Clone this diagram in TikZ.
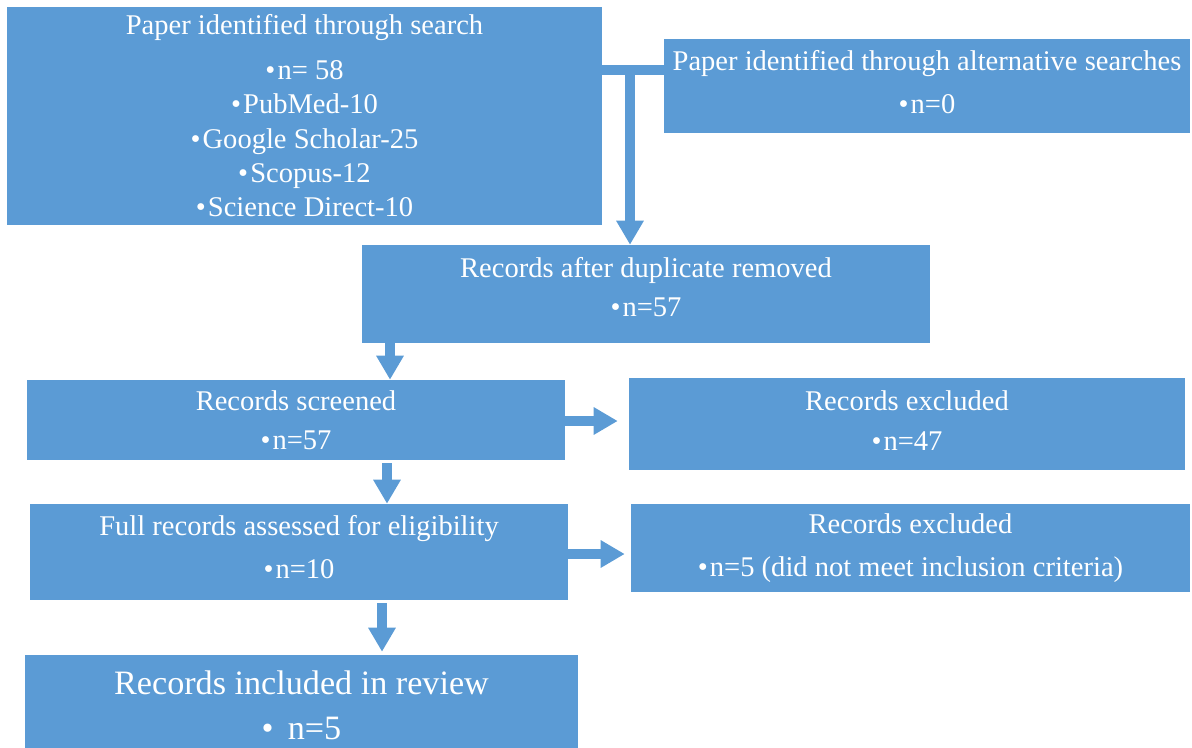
\documentclass[tikz,border=0pt]{standalone}
\usepackage{fontspec}
\setmainfont{Liberation Serif}
\usetikzlibrary{arrows.meta,positioning}
\definecolor{boxblue}{HTML}{5B9BD5}
\newcommand{\bul}{•\kern1.5pt}

\begin{document}
\begin{tikzpicture}[
	box/.style={fill=boxblue, text=white, align=center, inner sep=0pt,
		font=\fontsize{20.3}{24.5}\selectfont},
	lift/.style={execute at end node={\rule[-#1]{0pt}{0pt}}},
	link/.style={draw=boxblue, line width=0.25cm},
	blk/.style={link, -{Triangle[width=0.65cm,length=0.6cm]}}
]
	\useasboundingbox (0,0) rectangle (29.8,-18.675);

	% Caixas
	\node[box, minimum width=14.875cm, minimum height=5.45cm] (search) at (7.6125,-2.9)
		{Paper identified through search\\[7pt]\bul n= 58\\\bul PubMed-10\\\bul Google Scholar-25\\\bul Scopus-12\\\bul Science Direct-10};
	\node[box, lift=6pt, minimum width=13.15cm, minimum height=2.35cm] (alt) at (23.175,-2.15)
		{Paper identified through alternative searches\\[6pt]\bul n=0};
	\node[box, lift=10pt, minimum width=14.2cm, minimum height=2.45cm] (dup) at (16.15,-7.35)
		{Records after duplicate removed\\[3pt]\bul n=57};
	\node[box, minimum width=13.45cm, minimum height=2cm] (scr) at (7.4,-10.5)
		{Records screened\\[3pt]\bul n=57};
	\node[box, lift=4.5pt, minimum width=13.9cm, minimum height=2.3cm] (exa) at (22.675,-10.6)
		{Records excluded\\[4pt]\bul n=47};
	\node[box, lift=7pt, minimum width=13.45cm, minimum height=2.4cm] (full) at (7.475,-13.8)
		{Full records assessed for eligibility\\[6pt]\bul n=10};
	\node[box, minimum width=13.975cm, minimum height=2.2cm] (exb) at (22.7625,-13.7)
		{Records excluded\\[6pt]\bul n=5 (did not meet inclusion criteria)};
	\node[box, minimum width=13.825cm, minimum height=2.5cm,
		font=\fontsize{24.3}{28}\selectfont] (inc) at (7.5375,-17.625)
		{Records included in review\\[4pt]•\, n=5};

	% Setas
	\coordinate (j) at (15.75,-1.75);
	\draw[link] (search.east |- j) -- (alt.west |- j);
	\draw[blk] (j) -- (j |- dup.north);

	\coordinate (c1) at (9.75,0);
	\draw[blk] (c1 |- dup.south) -- (c1 |- scr.north);

	\coordinate (e1) at (0,-10.525);
	\draw[blk, shorten >=0.275cm] (scr.east |- e1) -- (exa.west |- e1);

	\coordinate (c2) at (9.675,0);
	\draw[blk, shorten <=0.075cm] (c2 |- scr.south) -- (c2 |- full.north);

	\coordinate (e2) at (0,-13.85);
	\draw[blk, shorten >=0.15cm] (full.east |- e2) -- (exb.west |- e2);

	\coordinate (c3) at (9.55,0);
	\draw[blk, shorten <=0.075cm, shorten >=0.075cm] (c3 |- full.south) -- (c3 |- inc.north);

\end{tikzpicture}
\end{document}
